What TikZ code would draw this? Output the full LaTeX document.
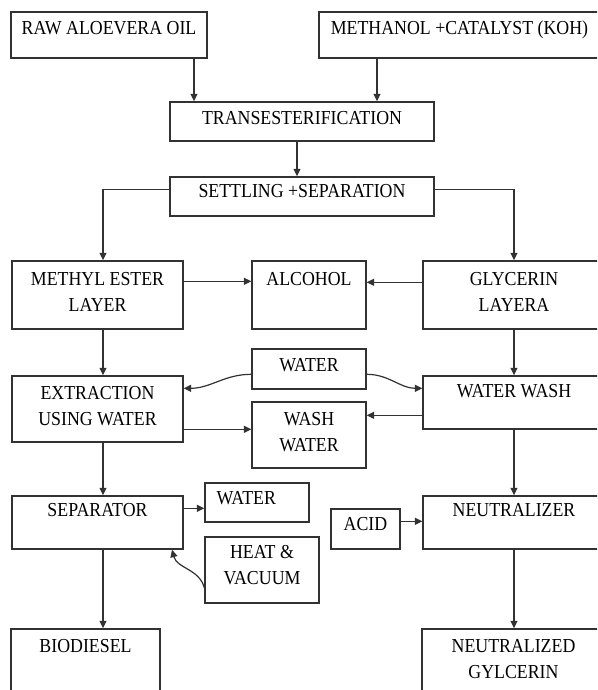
\documentclass[tikz,border=0pt]{standalone}
\usepackage{fontspec}
\setmainfont{Liberation Serif}[FakeStretch=0.9]
\usetikzlibrary{arrows.meta,fit,calc}
\definecolor{lncol}{RGB}{50,50,50}
\newcommand\mlines[1]{\begin{tabular}[t]{@{}c@{}}#1\end{tabular}}
\begin{document}
\begin{tikzpicture}[x=1pt,y=-1pt,
  bx/.style={draw=lncol, line width=1.4pt, inner sep=0pt},
  tx/.style={anchor=base, inner sep=0pt, font=\fontsize{19.8}{26}\selectfont, text=black},
  ar/.style={draw=lncol, line width=1.2pt, -{Triangle[length=7.5pt,width=7pt]}},
  pl/.style={draw=lncol, line width=1.2pt}]
\useasboundingbox (0,0) rectangle (597,690);
\clip (0,0) rectangle (597,690);
% boxes
\node[bx, fit={(11,12) (207,58)}] (raw) {};
\node[bx, fit={(319,12) (600,58)}] (meth) {};
\node[bx, fit={(170,102) (434,141)}] (trans) {};
\node[bx, fit={(170,177) (434,216)}] (settle) {};
\node[bx, fit={(12,261) (183,329)}] (methyl) {};
\node[bx, fit={(252,261) (366,329)}] (alcohol) {};
\node[bx, fit={(423,261) (605,329)}] (glyc) {};
\node[bx, fit={(252,349) (366,389)}] (water1) {};
\node[bx, fit={(12,376) (183,442)}] (extract) {};
\node[bx, fit={(423,376) (605,429)}] (wwash) {};
\node[bx, fit={(252,402) (366,468)}] (washw) {};
\node[bx, fit={(12,496) (183,549)}] (sep) {};
\node[bx, fit={(205,483) (309,522)}] (water2) {};
\node[bx, fit={(205,537) (319,603)}] (heat) {};
\node[bx, fit={(331,509) (400,549)}] (acid) {};
\node[bx, fit={(423,496) (605,549)}] (neut) {};
\node[bx, fit={(11,629) (160,700)}] (bio) {};
\node[bx, fit={(422,629) (605,700)}] (neutg) {};
% texts
\node[tx] (rawt) at ($(raw.north)+(0,23)$) {RAW ALOEVERA OIL};
\node[tx] (metht) at ($(meth.north)+(0,23)$) {METHANOL +CATALYST (KOH)};
\node[tx] (transt) at ($(trans.north)+(0,23)$) {TRANSESTERIFICATION};
\node[tx] (settlet) at ($(settle.north)+(0,21)$) {SETTLING +SEPARATION};
\node[tx] (methylt) at ($(methyl.north)+(0,25)$) {\mlines{METHYL ESTER\\LAYER}};
\node[tx] (alcoholt) at ($(alcohol.north)+(0,25)$) {ALCOHOL};
\node[tx] (glyct) at ($(glyc.north)+(0,25)$) {\mlines{GLYCERIN\\LAYERA}};
\node[tx] (water1t) at ($(water1.north)+(0,23)$) {WATER};
\node[tx] (extractt) at ($(extract.north)+(0,24)$) {\mlines{EXTRACTION\\USING WATER}};
\node[tx] (wwasht) at ($(wwash.north)+(0,22)$) {WATER WASH};
\node[tx] (washwt) at ($(washw.north)+(0,24)$) {\mlines{WASH\\WATER}};
\node[tx] (sept) at ($(sep.north)+(0,21)$) {SEPARATOR};
\node[tx, anchor=base west] (water2t) at ($(water2.north west)+(12,22)$) {WATER};
\node[tx] (heatt) at ($(heat.north)+(0,22)$) {\mlines{HEAT \&\\VACUUM}};
\node[tx] (acidt) at ($(acid.north)+(0,22)$) {ACID};
\node[tx] (neutt) at ($(neut.north)+(0,21)$) {NEUTRALIZER};
\node[tx] (biot) at ($(bio.north)+(0,24)$) {BIODIESEL};
\node[tx] (neutgt) at ($(neutg.north)+(0,24)$) {\mlines{NEUTRALIZED\\GYLCERIN}};
% connectors
\draw[ar] ([xshift=85pt]raw.south) coordinate (c1) -- (c1 |- trans.north);
\draw[ar] ([xshift=-82.5pt]meth.south) coordinate (c2) -- (c2 |- trans.north);
\draw[ar] ([xshift=-5pt]trans.south) coordinate (c3) -- (c3 |- settle.north);
\draw[ar] ([yshift=-13pt]settle.north west) -| ([xshift=5.5pt]methyl.north);
\draw[ar] ([yshift=-13pt]settle.north east) -| (glyc.north);
\draw[ar] ([yshift=-21pt]methyl.north east) coordinate (c4) -- (c4 -| alcohol.west);
\draw[ar] ([yshift=-22pt]glyc.north west) coordinate (c5) -- (c5 -| alcohol.east);
\draw[ar] ([xshift=5.5pt]methyl.south) coordinate (c6) -- (c6 |- extract.north);
\draw[ar] (glyc.south) coordinate (c13) -- (c13 |- wwash.north);
\draw[ar] ([yshift=-26pt]water1.north west) to[out=180,in=0] ([yshift=-13pt]extract.north east);
\draw[ar] ([yshift=-26pt]water1.north east) to[out=0,in=180] ([yshift=-13pt]wwash.north west);
\draw[ar] ([yshift=-54pt]extract.north east) coordinate (c7) -- (c7 -| washw.west);
\draw[ar] ([yshift=-40pt]wwash.north west) coordinate (c8) -- (c8 -| washw.east);
\draw[ar] ([xshift=5.5pt]extract.south) coordinate (c9) -- (c9 |- sep.north);
\draw[ar] (wwash.south) coordinate (c14) -- (c14 |- neut.north);
\draw[ar] ([yshift=-13pt]sep.north east) coordinate (c10) -- (c10 -| water2.west);
\draw[ar] ([yshift=16pt]heat.south west) to[out=105,in=-75] ([xshift=74.5pt]sep.south);
\draw[ar] ([yshift=-13pt]acid.north east) coordinate (c11) -- (c11 -| neut.west);
\draw[ar] ([xshift=5.5pt]sep.south) coordinate (c12) -- (c12 |- bio.north);
\draw[ar] (neut.south) coordinate (c15) -- (c15 |- neutg.north);
\end{tikzpicture}
\end{document}
